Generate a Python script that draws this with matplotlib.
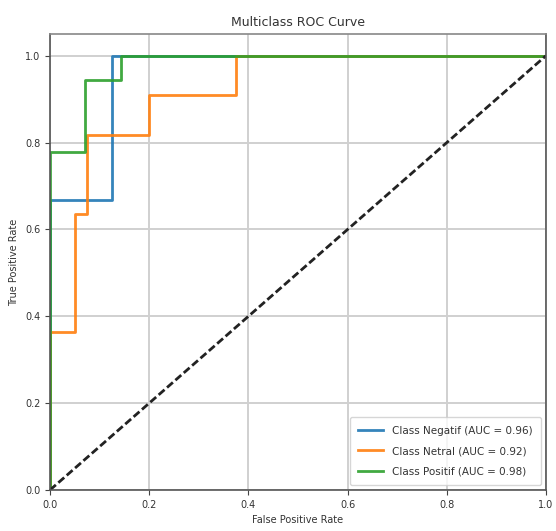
import matplotlib
matplotlib.use("Agg")
import matplotlib.pyplot as plt

# ROC points per class
classes = ["Negatif", "Netral", "Positif"]
auc_values = [0.96, 0.92, 0.98]

fpr_negatif = [0.0, 0.0, 0.125, 0.125, 1.0]
tpr_negatif = [0.0, 0.667, 0.667, 1.0, 1.0]

fpr_netral = [0.0, 0.0, 0.05, 0.05, 0.075, 0.075, 0.2, 0.2, 0.375, 0.375, 1.0]
tpr_netral = [0.0, 0.364, 0.364, 0.636, 0.636, 0.818, 0.818, 0.909, 0.909, 1.0, 1.0]

fpr_positif = [0.0, 0.0, 0.071, 0.071, 0.143, 0.143, 1.0]
tpr_positif = [0.0, 0.778, 0.778, 0.944, 0.944, 1.0, 1.0]

fprs = [fpr_negatif, fpr_netral, fpr_positif]
tprs = [tpr_negatif, tpr_netral, tpr_positif]
colors = ["#1f77b4", "#ff7f0e", "#2ca02c"]

fig = plt.figure(figsize=(5.56, 5.31), dpi=100)
ax = fig.add_axes([50 / 556, 41 / 531, 496 / 556, 456 / 531])

for name, auc, fpr, tpr, c in zip(classes, auc_values, fprs, tprs, colors):
    ax.plot(fpr, tpr, color=c, lw=2.0, alpha=0.9, label=f"Class {name} (AUC = {auc:.2f})")

ax.plot([0, 1], [0, 1], color="#222222", ls=(0, (2.8, 1.2)), lw=2.0)

ax.set_xlim(0.0, 1.0)
ax.set_ylim(0.0, 1.05)
ax.set_xlabel("False Positive Rate", fontsize=7, color="#333333")
ax.set_ylabel("True Positive Rate", fontsize=7, color="#333333")
ax.set_title("Multiclass ROC Curve", fontsize=9, color="#333333")
ax.tick_params(labelsize=7, labelcolor="#333333", color="#444444")
leg = ax.legend(loc="lower right", fontsize=7.5, labelspacing=1.0, handlelength=2.4,
                borderpad=0.8)
for t in leg.get_texts():
    t.set_color("#333333")
ax.grid(True, color="#d0d0d0", lw=1.4)
for s in ax.spines.values():
    s.set_color("#555555")
    s.set_linewidth(1.2)
ax.spines["top"].set_color("#888888")

fig.savefig("out.png", dpi=100)
